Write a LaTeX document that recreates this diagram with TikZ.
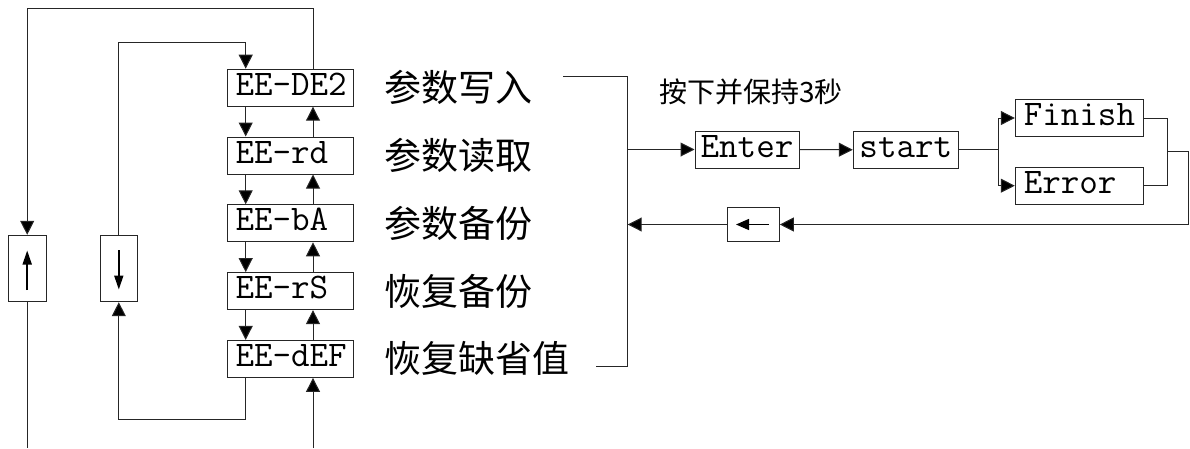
\documentclass[tikz,border=0pt]{standalone}
\usepackage{fontspec}
\newfontfamily\cjk{Noto Sans CJK SC}
\usetikzlibrary{arrows.meta,calc}
\tikzset{
  ln/.style={line width=1pt, draw=black!85},
  arr/.style={ln, -{Triangle[length=14pt,width=14pt,fill=black]}},
  tt/.style={font=\ttfamily\fontsize{36}{36}\selectfont},
  ebox/.style={ln, tt, rectangle, minimum width=125.6pt, minimum height=37pt,
    text width=110pt, align=left, inner xsep=7.8pt, inner ysep=0pt, text height=22pt, text depth=7pt},
  cbox/.style={ln, tt, rectangle, minimum height=37pt, inner xsep=5pt, inner ysep=0pt,
    text height=22pt, text depth=7pt},
  abox/.style={ln, rectangle, inner sep=0pt},
  lab/.style={font=\cjk\fontsize{37}{37}\selectfont, anchor=west, inner sep=0pt},
  glyph/.style={line width=1.8pt, -{Triangle[length=14pt,width=9pt]}}
}
\begin{document}
\begin{tikzpicture}[x=1pt,y=-1pt]
\useasboundingbox (0,0) rectangle (1190,448);
% EE boxes
\node[ebox] (b1) at (290.5,87.7) {EE-DE2};
\node[ebox] (b2) at (290.5,155.5) {EE-rd};
\node[ebox] (b3) at (290.5,223.3) {EE-bA};
\node[ebox] (b4) at (290.5,291.1) {EE-rS};
\node[ebox] (b5) at (290.5,358.9) {EE-dEF};
% labels
\node[lab] (l1) at (384,87.7) {参数写入};
\node[lab] (l2) at (384,155.5) {参数读取};
\node[lab] (l3) at (384,223.3) {参数备份};
\node[lab] (l4) at (384,291.1) {恢复备份};
\node[lab] (l5) at (384,358.9) {恢复缺省值};
% side arrow boxes
\node[abox, minimum width=37.7pt, minimum height=66.4pt] (up) at (27.2,268.5) {};
\node[abox, minimum width=37pt, minimum height=66.4pt] (dn) at (118.8,268.5) {};
\draw[glyph] (27.2,290) -- (27.2,250.5);
\draw[glyph] (118.8,250) -- (118.8,289.5);
% column coordinates
\coordinate (dl) at (245.7,0);
\coordinate (ul) at (313,0);
% arrows between boxes
\foreach \a/\b in {b1/b2,b2/b3,b3/b4,b4/b5}{
  \draw[arr] (\a.south -| dl) -- (\b.north -| dl);
  \draw[arr] (\b.north -| ul) -- (\a.south -| ul);
}
% outer loop (up)
\coordinate (ubot) at (27.2,448);
\coordinate (rbot) at (313,448);
\draw[arr] (b1.north -| ul) -- (313,8) -- (27.2,8) -- (up.north);
\draw[ln] (up.south) -- (ubot);
\draw[arr] (rbot) -- (b5.south -| ul);
% inner loop (down)
\draw[arr] (dn.north) -- (118.8,42) -- (245.7,42) -- (b1.north -| dl);
\draw[arr] (b5.south -| dl) -- (245.7,419.3) -- (118.8,419.3) -- (dn.south);
% bracket
\coordinate (bt) at (563,76.7);
\coordinate (bb) at (596,366);
\coordinate (bx) at (627.7,0);
\draw[ln] (bt) -- (bt -| bx) -- (bb -| bx) -- (bb);
% right flow
\node[cbox, minimum width=104pt] (en) at (747,149.5) {Enter};
\node[cbox, minimum width=105pt] (st) at (905.8,149.8) {start};
\node[ebox, minimum width=128pt, text width=111pt, inner xsep=8.5pt] (fi) at (1079.3,118) {Finish};
\node[ebox, minimum width=128pt, text width=111pt, inner xsep=8.5pt] (er) at (1079.3,185.7) {Error};
\node[abox, minimum width=51.6pt, minimum height=34.4pt] (bk) at (753.5,224.5) {};
\draw[line width=1.3pt, -{Triangle[length=13pt,width=11pt]}] (768.5,224.5) -- (736,224.5);
\node[font=\cjk\fontsize{28}{28}\selectfont, anchor=west, inner sep=0pt] (hint) at (659,92) {按下并保持3秒};
\draw[arr] (en.west -| bx) -- (en.west);
\draw[arr] (en.east) -- (st.west);
\coordinate (sp) at (998.3,0);
\draw[ln] (st.east) -- (st.east -| sp);
\draw[arr] (fi.west -| sp) -- (fi.west);
\draw[arr] (er.west -| sp) -- (er.west);
\draw[ln] (fi.west -| sp) -- (er.west -| sp);
\coordinate (mg) at (1167.3,151.7);
\coordinate (rx) at (1188.3,224.5);
\draw[ln] (fi.east) -- (fi.east -| mg) -- (er.east -| mg) -- (er.east);
\draw[arr] (mg) -- (mg -| rx) -- (rx) -- (bk.east);
\draw[arr] (bk.west) -- (bk.west -| bx);
\end{tikzpicture}
\end{document}
